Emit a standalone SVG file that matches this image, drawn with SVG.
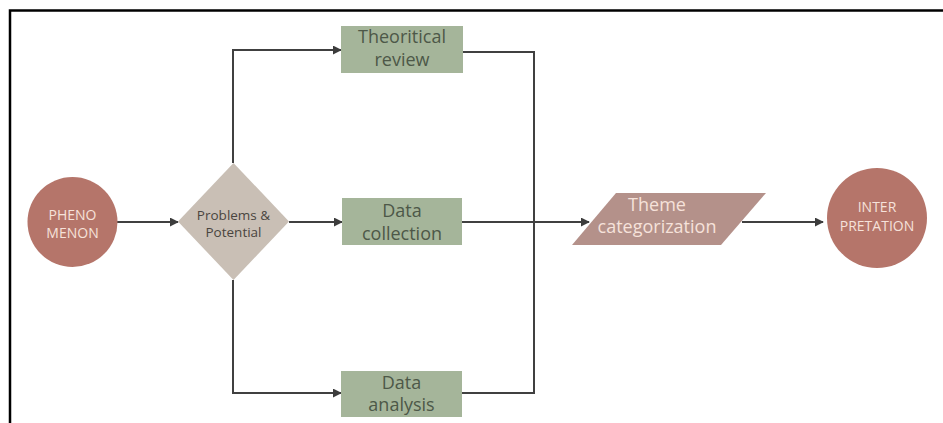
<svg xmlns="http://www.w3.org/2000/svg" width="943" height="423" viewBox="0 0 943 423">
<defs>
<marker id="ah" viewBox="0 0 10 10" refX="9" refY="5" markerWidth="4.5" markerHeight="4.5" orient="auto" markerUnits="strokeWidth">
<path d="M0,0 L10,5 L0,10 z" fill="#3c3c3c"/>
</marker>
</defs>
<style>
.conn{fill:none;stroke:#404040;stroke-width:2}
.arr{marker-end:url(#ah)}
.green{fill:#a5b59a}
.gt{font-family:"Open Sans","Noto Sans",sans-serif;font-size:18px;fill:#4d5848;text-anchor:middle}
.pt{font-family:"Open Sans","Noto Sans",sans-serif;fill:#f6e2da;text-anchor:middle}
.dt{font-family:"Open Sans","Noto Sans",sans-serif;font-size:13.5px;fill:#4a4540;text-anchor:middle}
</style>
<rect width="943" height="423" fill="#ffffff"/>
<path d="M10,423 V10.5 H943" fill="none" stroke="#000" stroke-width="2.5"/>
<g id="connectors">
<line class="conn arr" x1="117" y1="222" x2="178" y2="222"/>
<line class="conn arr" x1="289" y1="222" x2="342" y2="222"/>
<polyline class="conn arr" points="233,163 233,50 341,50"/>
<polyline class="conn arr" points="233,280 233,393 341,393"/>
<polyline class="conn" points="463,52 534,52 534,393 462,393"/>
<line class="conn arr" x1="462" y1="222" x2="589" y2="222"/>
<line class="conn arr" x1="742" y1="222" x2="823" y2="222"/>
</g>
<g id="phenomenon">
<circle cx="72.5" cy="222" r="45" fill="#b5756a"/>
<text class="pt" font-size="14" x="72.5" y="219.5">PHENO</text>
<text class="pt" font-size="14" x="72.5" y="237.5">MENON</text>
</g>
<g id="problems">
<polygon points="233.5,163 289,221.5 233.5,280 178,221.5" fill="#c9bfb5"/>
<text class="dt" x="233.5" y="220">Problems &amp;</text>
<text class="dt" x="233.5" y="237">Potential</text>
</g>
<g id="theoritical">
<rect class="green" x="341" y="26" width="122" height="47"/>
<text class="gt" x="402" y="43">Theoritical</text>
<text class="gt" x="402" y="66">review</text>
</g>
<g id="collection">
<rect class="green" x="342" y="198" width="120" height="47"/>
<text class="gt" x="402" y="217">Data</text>
<text class="gt" x="402" y="240">collection</text>
</g>
<g id="analysis">
<rect class="green" x="341" y="371" width="121" height="46"/>
<text class="gt" x="401.5" y="389">Data</text>
<text class="gt" x="401.5" y="411">analysis</text>
</g>
<g id="theme">
<polygon points="616,193 766,193 721,245 572,245" fill="#b4918a"/>
<text class="pt" font-size="18" x="657" y="211">Theme</text>
<text class="pt" font-size="18" x="657" y="233">categorization</text>
</g>
<g id="interpretation">
<circle cx="877" cy="218" r="50" fill="#b5756a"/>
<text class="pt" font-size="14" x="877" y="212">INTER</text>
<text class="pt" font-size="14" x="877" y="230.5">PRETATION</text>
</g>
</svg>
